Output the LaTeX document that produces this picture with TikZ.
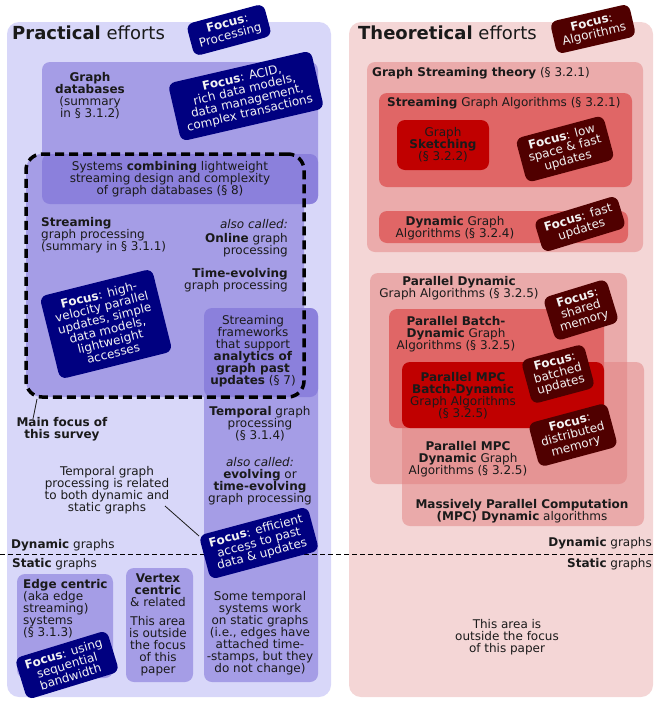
\documentclass[tikz,border=0pt]{standalone}
\usepackage{fontspec}
\setmainfont{DejaVu Sans}
\definecolor{lav}{HTML}{D8D7F9}
\definecolor{pmed}{HTML}{A59DE6}
\definecolor{pdark}{HTML}{8B80DC}
\definecolor{navyb}{HTML}{000080}
\definecolor{pinkbg}{HTML}{F4D6D6}
\definecolor{pinkmid}{HTML}{EBABAB}
\definecolor{pinkC}{HTML}{E28080}
\definecolor{redmid}{HTML}{E06666}
\definecolor{redstrong}{HTML}{C00000}
\definecolor{maroon}{HTML}{500000}
\definecolor{txt}{HTML}{1A1A1A}
\definecolor{ftxt}{HTML}{F2F2F2}
\tikzset{
  area/.style={rectangle, draw=none, anchor=north west, inner sep=0pt, outer sep=0pt, rounded corners=8pt},
  lbl/.style={font=\fontsize{12}{12}\selectfont, text=txt, inner sep=0pt, align=center},
  lbll/.style={lbl, align=left, anchor=west},
  lblr/.style={lbl, align=right, anchor=east},
  title/.style={font=\fontsize{18}{18}\selectfont, text=txt, inner sep=0pt, anchor=west},
  focusbox/.style={rounded corners=7pt, text=ftxt, font=\fontsize{12}{12}\selectfont, align=center, inner xsep=8pt, inner ysep=5pt},
  focusP/.style={focusbox, fill=navyb},
  focusT/.style={focusbox, fill=maroon},
  thin/.style={draw=txt, line width=0.8pt}
}
\begin{document}
\begin{tikzpicture}[x=1pt,y=-1pt]
\useasboundingbox (0,0) rectangle (654,702);
% ---------- outer areas
\node[area, fill=lav, minimum width=324pt, minimum height=675pt, rounded corners=12pt] (prac) at (7,22) {};
\node[area, fill=pinkbg, minimum width=304pt, minimum height=675pt, rounded corners=12pt] (theo) at (349,22) {};
% ---------- left boxes
\node[area, fill=pmed, minimum width=276pt, minimum height=142pt] (gdb) at (42,62) {};
\node[area, fill=pmed, minimum width=278pt, minimum height=243pt, rounded corners=16pt] (strf) at (26,154) {};
\node[area, fill=pdark, minimum width=276pt, minimum height=50pt] (comb) at (42,154) {};
\node[area, fill=pmed, minimum width=114pt, minimum height=374pt] (temp) at (204,308) {};
\node[area, fill=pdark, minimum width=114pt, minimum height=89pt] (sfw) at (204,308) {};
\node[area, draw=black, line width=3.5pt, dash pattern=on 9pt off 5pt, rounded corners=16pt, minimum width=278pt, minimum height=243pt] (strd) at (26,154) {};
\node[area, fill=pmed, minimum width=96pt, minimum height=104pt] (edge) at (17,574) {};
\node[area, fill=pmed, minimum width=67pt, minimum height=114pt] (vert) at (126,568) {};
% ---------- right boxes
\node[area, fill=pinkmid, minimum width=276pt, minimum height=190pt] (gst) at (367,62) {};
\node[area, fill=redmid, minimum width=253pt, minimum height=94pt] (sga) at (379,93) {};
\node[area, fill=redstrong, minimum width=92pt, minimum height=50pt] (sk) at (397,120) {};
\node[area, fill=redmid, minimum width=249pt, minimum height=32pt] (dga) at (379,211) {};
\node[area, fill=pinkC, fill opacity=0.5, minimum width=257pt, minimum height=211pt] (pd) at (370,273) {};
\node[area, fill=pinkC, fill opacity=0.5, minimum width=242pt, minimum height=164pt] (mpc) at (402,362) {};
\node[area, fill=redmid, minimum width=215pt, minimum height=119pt] (pbd) at (389,309) {};
\node[area, fill=redstrong, minimum width=202pt, minimum height=66pt] (mpcbd) at (402,362) {};
% ---------- dynamic / static separator
\coordinate (dl) at (0,554);
\coordinate (dr) at (654,554);
\draw[black, line width=0.8pt, dash pattern=on 5pt off 3pt] (dl) -- (dr);
% ---------- left texts
\node[title] (tprac) at (12,33) {\textbf{Practical} efforts};
\node[lbl] (tgdb) at (90,96) {\textbf{Graph}\\\textbf{databases}\\(summary\\in § 3.1.2)};
\node[lbl] (tcomb) at (170,179) {Systems \textbf{combining} lightweight\\streaming design and complexity\\of graph databases (§ 8)};
\node[lbll] (tstr) at (41,235) {\textbf{Streaming}\\graph processing\\(summary in § 3.1.1)};
\node[lblr] (tonl) at (288,238) {\textit{also called:}\\[2pt]\textbf{Online} graph\\processing};
\node[lblr] (ttev) at (288,280) {\textbf{Time-evolving}\\graph processing};
\node[lbl] (tsfw) at (253,351) {Streaming\\frameworks\\that support\\\textbf{analytics of}\\\textbf{graph past}\\\textbf{updates} (§ 7)};
\node[lbl] (tmf) at (62,429) {\textbf{Main focus of}\\\textbf{this survey}};
\coordinate (mfp) at (37,399);
\draw[thin] (mfp) -- ([xshift=-29pt,yshift=-2pt]tmf.north);
\node[lbl] (ttemp) at (260,424) {\textbf{Temporal} graph\\processing\\(§ 3.1.4)};
\node[lbl] (tevo) at (260,481) {\textit{also called:}\\\textbf{evolving} or\\\textbf{time-evolving}\\graph processing};
\node[lbl] (trel) at (107,490) {Temporal graph\\processing is related\\to both dynamic and\\static graphs};
\coordinate (trelA) at (165,506);
\coordinate (trelB) at (199,536);
\draw[thin] (trelA) -- (trelB);
\node[lbll] (tdynl) at (11,545) {\textbf{Dynamic} graphs};
\node[lbll] (tstal) at (12,564) {\textbf{Static} graphs};
\node[lbl, align=left, anchor=north west] (tedge) at (23,579) {\textbf{Edge centric}\\(aka edge\\streaming)\\systems\\(§ 3.1.3)};
\node[lbl] (tvert) at (158,590) {\textbf{Vertex}\\\textbf{centric}\\\& related};
\node[lbl] (tvout) at (158,646) {This area\\is outside\\the focus\\of this\\paper};
\node[lbl] (tsome) at (260,633) {Some temporal\\systems work\\on static graphs\\(i.e., edges have\\attached time-\\-stamps, but they\\do not change)};
% ---------- left focus boxes
\node[focusP, rotate=15] (fproc) at (229,30) {\textbf{Focus}:\\Processing};
\node[focusP, rotate=13, inner xsep=9pt, inner ysep=6pt] (facid) at (246,96) {\textbf{Focus}: ACID,\\rich data models,\\data management,\\complex transactions};
\node[focusP, rotate=14, inner xsep=10pt, inner ysep=8pt] (fvel) at (106,324) {\textbf{Focus}: high-\\velocity parallel\\updates, simple\\data models,\\lightweight\\accesses};
\node[focusP, rotate=15] (facc) at (259,543) {\textbf{Focus}: efficient\\access to past\\data \& updates};
\node[focusP, rotate=17] (fseq) at (67,665) {\textbf{Focus}: using\\sequential\\bandwidth};
% ---------- right texts
\node[title] (ttheo) at (358,33) {\textbf{Theoretical} efforts};
\node[lbll] (tgst) at (372,73) {\textbf{Graph Streaming theory} (§ 3.2.1)};
\node[lbll] (tsga) at (387,103) {\textbf{Streaming} Graph Algorithms (§ 3.2.1)};
\node[lbl] (tsk) at (443,145) {Graph\\\textbf{Sketching}\\(§ 3.2.2)};
\node[lbl] (tdga) at (455,228) {\textbf{Dynamic} Graph\\Algorithms (§ 3.2.4)};
\node[lbl] (tpd) at (459,288) {\textbf{Parallel Dynamic}\\Graph Algorithms (§ 3.2.5)};
\node[lbl] (tpbd) at (456,334) {\textbf{Parallel Batch-}\\\textbf{Dynamic} Graph\\Algorithms (§ 3.2.5)};
\node[lbl] (tmpcbd) at (463,396) {\textbf{Parallel MPC}\\\textbf{Batch-Dynamic}\\Graph Algorithms\\(§ 3.2.5)};
\node[lbl] (tmpcd) at (468,459) {\textbf{Parallel MPC}\\\textbf{Dynamic} Graph\\Algorithms (§ 3.2.5)};
\node[lbl] (tmpc) at (522,511) {\textbf{Massively Parallel Computation}\\\textbf{(MPC) Dynamic} algorithms};
\node[lblr] (tdynr) at (652,543) {\textbf{Dynamic} graphs};
\node[lblr] (tstar) at (652,564) {\textbf{Static} graphs};
\node[lbl] (tout) at (507,637) {This area is\\outside the focus\\of this paper};
% ---------- right focus boxes
\node[focusT, rotate=13] (falg) at (593,29) {\textbf{Focus}:\\Algorithms};
\node[focusT, rotate=15] (flow) at (565,149) {\textbf{Focus}: low\\space \& fast\\updates};
\node[focusT, rotate=17] (ffast) at (580,224) {\textbf{Focus}: fast\\updates};
\node[focusT, rotate=17] (fshared) at (581,310) {\textbf{Focus}:\\shared\\memory};
\node[focusT, rotate=15] (fbatch) at (558,374) {\textbf{Focus}:\\batched\\updates};
\node[focusT, rotate=15] (fdist) at (573,435) {\textbf{Focus}:\\distributed\\memory};
\end{tikzpicture}
\end{document}
